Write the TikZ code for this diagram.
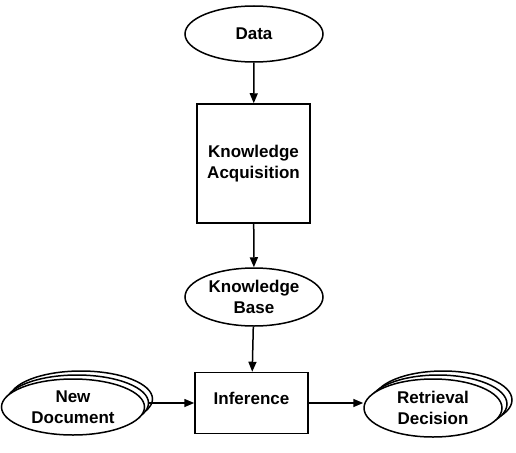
\documentclass[tikz,border=0pt]{standalone}
\usepackage{fontspec}
\setmainfont{Liberation Sans}
\usetikzlibrary{arrows.meta, shapes.geometric}

\tikzset{
  blob/.style={draw, ellipse, fill=white, line width=1.5pt, inner sep=0pt, align=center},
  stage/.style={draw, rectangle, fill=white, line width=1.5pt, inner sep=0pt, align=center},
  flow/.style={line width=1.5pt, -{Triangle[length=10pt, width=8pt]}}
}

\begin{document}
\begin{tikzpicture}[x=1pt, y=-1pt, font=\fontsize{17}{21}\selectfont\bfseries]

\useasboundingbox (0,0) rectangle (516,452);

% main column
\node[blob, minimum width=138pt, minimum height=56pt] (data) at (254,34) {Data};
\node[stage, minimum width=113pt, minimum height=119pt] (acq) at (253.5,163.5) {Knowledge\\Acquisition};
\node[blob, minimum width=138pt, minimum height=58pt] (kb) at (254,297) {Knowledge\\Base};
\node[stage, minimum width=113pt, minimum height=61pt] (inf) at (251.5,403) {};
\node (inftext) at (251.5,398) {Inference};

% stacked ellipses for the new document (back ones first)
\node[blob, minimum width=143pt, minimum height=56pt] (nd2) at (81,399) {};
\node[blob, minimum width=143pt, minimum height=56pt] (nd1) at (77,403) {};
\node[blob, minimum width=143pt, minimum height=56pt] (nd) at (73,407) {New\\Document};

% stacked ellipses for the retrieval decision
\node[blob, minimum width=138pt, minimum height=58pt] (rd2) at (443,400) {};
\node[blob, minimum width=138pt, minimum height=58pt] (rd1) at (438,404) {};
\node[blob, minimum width=138pt, minimum height=58pt] (rd) at (433,408) {Retrieval\\Decision};

% connectors
\draw[flow] (data) -- (acq);
\draw[flow] (acq) -- (kb);
\draw[flow] (kb) -- (inf);
\draw[flow] (nd1.east) -- (nd1.east -| inf.west);
\draw[flow] (inf.east) -- (inf.east -| rd.west);

\end{tikzpicture}
\end{document}
